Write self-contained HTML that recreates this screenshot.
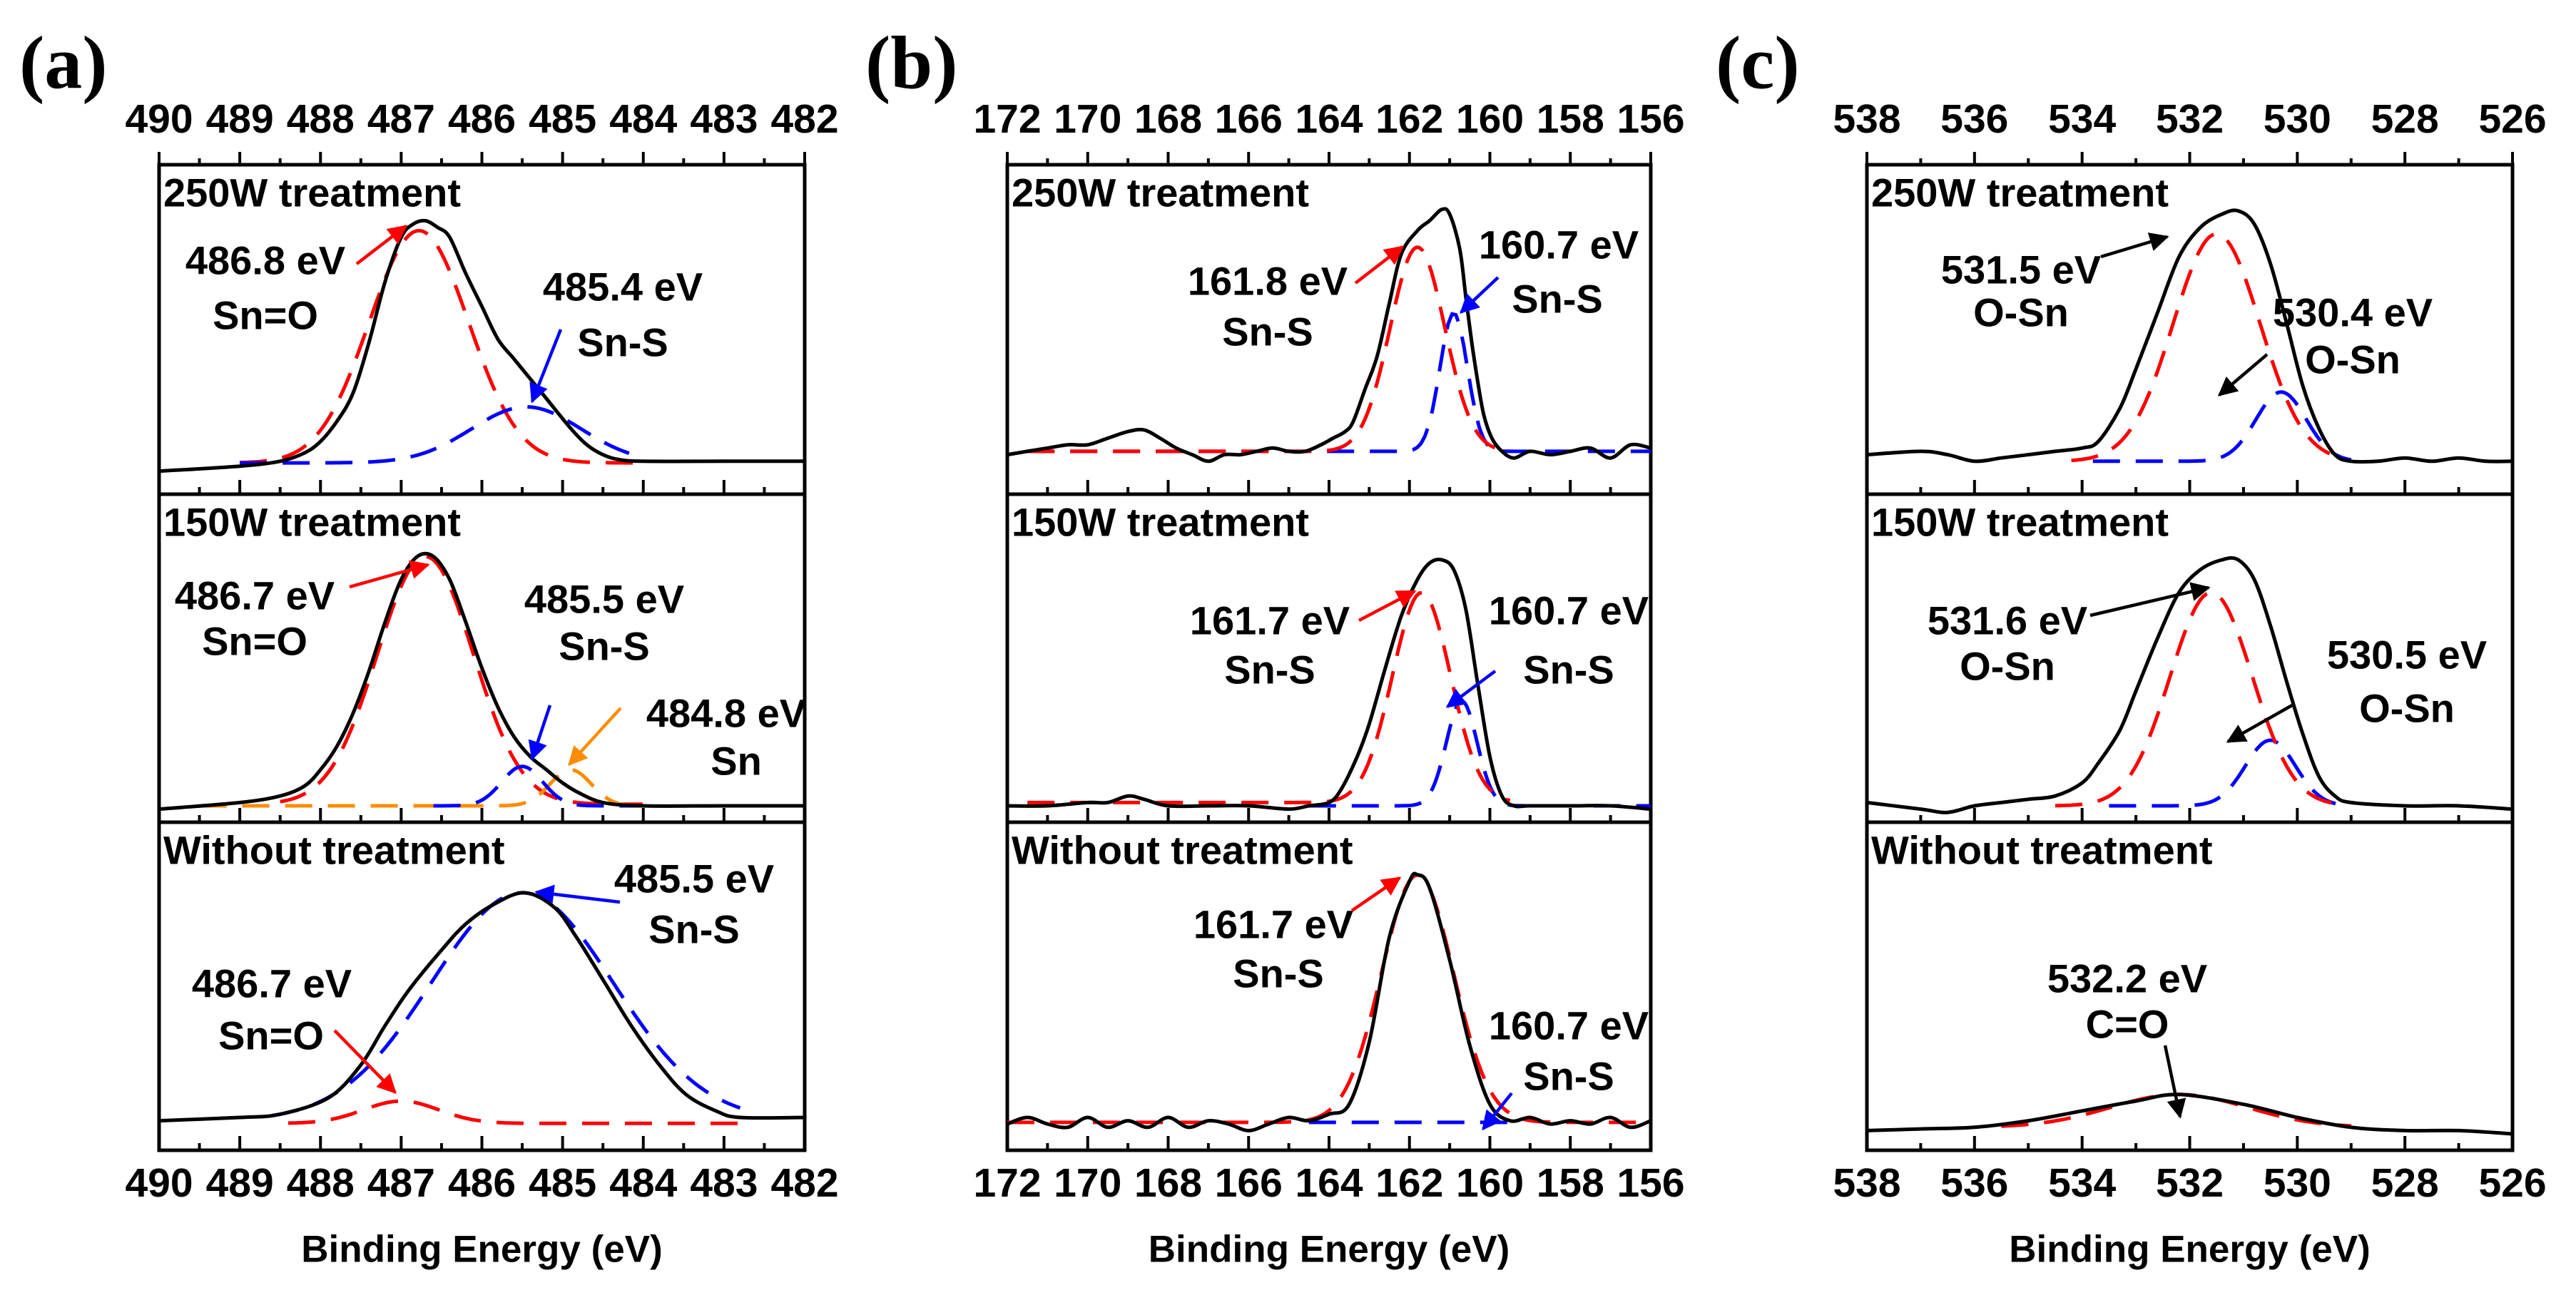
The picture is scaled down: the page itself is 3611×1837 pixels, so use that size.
<!DOCTYPE html>
<html><head><meta charset="utf-8">
<style>
html,body{margin:0;padding:0;background:#fff;}
svg{display:block;}
text{font-family:"Liberation Sans",Arial,sans-serif;font-weight:bold;fill:#000;}
</style></head>
<body>
<svg id="fig" width="3611" height="1837" viewBox="0 0 3611 1837" xmlns="http://www.w3.org/2000/svg">
<defs>
<marker id="ahR" viewBox="0 0 10 10" refX="9" refY="5" markerWidth="7" markerHeight="6" orient="auto" markerUnits="strokeWidth"><path d="M0,0 L10,5 L0,10 z" fill="#ff0000"/></marker>
<marker id="ahB" viewBox="0 0 10 10" refX="9" refY="5" markerWidth="7" markerHeight="6" orient="auto" markerUnits="strokeWidth"><path d="M0,0 L10,5 L0,10 z" fill="#0000ff"/></marker>
<marker id="ahO" viewBox="0 0 10 10" refX="9" refY="5" markerWidth="7" markerHeight="6" orient="auto" markerUnits="strokeWidth"><path d="M0,0 L10,5 L0,10 z" fill="#ff8c00"/></marker>
<marker id="ahK" viewBox="0 0 10 10" refX="9" refY="5" markerWidth="7" markerHeight="6" orient="auto" markerUnits="strokeWidth"><path d="M0,0 L10,5 L0,10 z" fill="#000000"/></marker>
</defs>
</svg>
<script>
// ---------- data ----------
const panelA_range = [490, 482];
const panelB_range = [172, 156];
const panelC_range = [538, 526];
const panelA_ticks = [490,489,488,487,486,485,484,483,482];
const panelB_ticks = [172,170,168,166,164,162,160,158,156];
const panelC_ticks = [538,536,534,532,530,528,526];
const rowTitles = ["250W treatment","150W treatment","Without treatment"];

const a1_E = [490,489,488.5,488.2,488,487.8,487.6,487.4,487.2,487,486.85,486.7,486.55,486.4,486.2,486,485.8,485.6,485.4,485.2,484.9,484.7,484.5,484.3,484,483,482];
const a1_I = [0.07,0.085,0.10,0.125,0.16,0.22,0.305,0.46,0.645,0.78,0.82,0.83,0.81,0.78,0.67,0.57,0.47,0.41,0.35,0.29,0.20,0.15,0.12,0.105,0.10,0.10,0.10];
const a2_E = [490,489,488.5,488.2,488,487.8,487.6,487.4,487.2,487,486.8,486.6,486.4,486.2,486,485.8,485.6,485.4,485.2,485,484.8,484.5,484,483,482];
const a2_I = [0.04,0.06,0.08,0.11,0.16,0.23,0.33,0.46,0.61,0.74,0.81,0.81,0.74,0.61,0.47,0.35,0.26,0.20,0.16,0.12,0.09,0.06,0.05,0.05,0.05];
const a3_E = [490,489,488.5,487.9,487.5,487.2,486.9,486.5,486.2,485.85,485.47,485.1,484.83,484.5,484.15,483.8,483.47,483.1,482.8,482];
const a3_I = [0.09,0.10,0.11,0.16,0.26,0.38,0.49,0.61,0.69,0.75,0.785,0.74,0.65,0.52,0.38,0.26,0.17,0.12,0.10,0.10];

const b1_E = [172,171.5,171,170.5,170,169.5,169,168.6,168.2,167.8,167.4,167,166.6,166.2,165.8,165.4,165,164.6,164.2,163.9,163.6,163.4,163.1,162.8,162.5,162.2,161.8,161.5,161.2,161,160.75,160.6,160.45,160.3,160.15,159.95,159.7,159.4,159,158.5,158,157.5,157,156.5,156];
const b1_I = [0.12,0.13,0.14,0.15,0.15,0.17,0.19,0.195,0.17,0.14,0.12,0.10,0.12,0.12,0.13,0.14,0.13,0.13,0.15,0.17,0.19,0.22,0.32,0.42,0.58,0.73,0.80,0.83,0.864,0.85,0.745,0.60,0.46,0.34,0.24,0.17,0.13,0.11,0.13,0.12,0.13,0.14,0.11,0.15,0.14];
const b2_E = [172,171,170,169.5,169,168.6,168,167,166,165,164.5,164,163.7,163.3,163,162.6,162.2,161.8,161.5,161.2,160.9,160.6,160.3,160,159.7,159.4,159,158,157,156];
const b2_I = [0.05,0.05,0.06,0.06,0.08,0.07,0.05,0.05,0.05,0.04,0.05,0.06,0.10,0.20,0.30,0.47,0.63,0.74,0.79,0.80,0.77,0.65,0.42,0.20,0.08,0.05,0.05,0.05,0.05,0.04];
const b3_E = [172,171.5,171,170.5,170,169.5,169,168.5,168,167.5,167,166.5,166,165.5,165,164.5,164,163.5,163,162.5,162,161.8,161.5,161,160.5,160,159.5,159,158.5,158,157.5,157,156.5,156];
const b3_I = [0.08,0.10,0.08,0.07,0.10,0.07,0.09,0.07,0.10,0.07,0.09,0.08,0.06,0.08,0.10,0.09,0.11,0.14,0.33,0.65,0.82,0.84,0.80,0.58,0.32,0.14,0.09,0.10,0.08,0.09,0.08,0.10,0.07,0.09];

const c1_E = [538,537,536.5,536,535.5,535,534.5,534,533.7,533.3,533,532.6,532.2,531.8,531.4,531.1,530.8,530.5,530.2,529.9,529.6,529.3,529,528.5,528,527.5,527,526.5,526];
const c1_I = [0.12,0.13,0.12,0.10,0.11,0.12,0.13,0.14,0.16,0.26,0.38,0.55,0.72,0.81,0.85,0.86,0.82,0.70,0.52,0.33,0.20,0.12,0.10,0.10,0.11,0.10,0.11,0.10,0.10];
const c2_E = [538,537,536.5,536,535.5,535,534.5,534,533.7,533.3,533,532.6,532.2,531.8,531.4,531.1,530.8,530.5,530.2,529.9,529.6,529.3,529,528,527,526];
const c2_I = [0.06,0.04,0.03,0.05,0.06,0.07,0.08,0.12,0.18,0.28,0.40,0.56,0.70,0.77,0.80,0.80,0.74,0.60,0.43,0.27,0.14,0.08,0.06,0.05,0.05,0.04];
const c3_E = [538,537,536,535,534,533,532.2,531,530,529,528,527,526];
const c3_I = [0.06,0.065,0.07,0.09,0.12,0.15,0.17,0.14,0.10,0.07,0.06,0.06,0.05];

// Fitted components: [center eV, peak height, FWHM eV, baseline, start eV, end eV]
const a1_red = [486.78, 0.80, 1.45, 0.095, 489.0, 484.0];
const a1_blue = [485.45, 0.265, 1.6, 0.095, 489.0, 484.0];
const a2_red = [486.7, 0.81, 1.4, 0.055, 488.5, 484.0];
const a2_blue = [485.5, 0.17, 0.6, 0.05, 486.6, 484.0];
const a2_orange = [484.9, 0.16, 0.6, 0.05, 489.5, 484.0];
const a3_red = [487.0, 0.15, 1.1, 0.082, 488.4, 482.7];
const a3_blue = [485.5, 0.785, 2.65, 0.09, 488.6, 482.8];
const b1_red = [161.8, 0.75, 1.6, 0.13, 171.5, 159.5];
const b1_blue = [160.9, 0.55, 0.8, 0.13, 171.5, 156];
const b2_red = [161.7, 0.70, 1.7, 0.06, 171.5, 159.5];
const b2_blue = [160.7, 0.37, 0.9, 0.05, 164.5, 156];
const b3_red = [161.8, 0.84, 2.1, 0.085, 172, 156];
const b3_blue = [160.7, 0.085, 0.9, 0.085, 164.5, 159.5];
const c1_red = [531.5, 0.79, 1.9, 0.10, 534.2, 529.2];
const c1_blue = [530.3, 0.31, 1.1, 0.10, 533.8, 529.0];
const c2_red = [531.6, 0.70, 1.8, 0.05, 534.5, 529.2];
const c2_blue = [530.5, 0.25, 1.1, 0.05, 533.5, 529.0];
const c3_red = [532.2, 0.17, 3.0, 0.07, 535.5, 529.0];

// ---------- layout ----------
const NS = "http://www.w3.org/2000/svg";
const svg = document.getElementById("fig");
const rowsY = [[231,693],[693,1153],[1153,1613]];
const panels = [
  {id:"a", x0:223, x1:1128, range:panelA_range, ticks:panelA_ticks, minor:0.5, label:"(a)", lx:27},
  {id:"b", x0:1412, x1:2314, range:panelB_range, ticks:panelB_ticks, minor:1, label:"(b)", lx:1213},
  {id:"c", x0:2617, x1:3522, range:panelC_range, ticks:panelC_ticks, minor:1, label:"(c)", lx:2405}
];
const LFS = 56;
function mk(tag, attrs, parent){
  const el = document.createElementNS(NS, tag);
  for (const k in attrs) el.setAttribute(k, attrs[k]);
  (parent||svg).appendChild(el);
  return el;
}
function xs(p, E){ return p.x0 + (p.range[0]-E)/(p.range[0]-p.range[1])*(p.x1-p.x0); }
function ys(r, f){ return rowsY[r][1] - f*(rowsY[r][1]-rowsY[r][0]); }

function smoothPath(pts){
  let d = "M"+pts[0][0].toFixed(1)+","+pts[0][1].toFixed(1);
  for (let i=0;i<pts.length-1;i++){
    const p0=pts[Math.max(0,i-1)], p1=pts[i], p2=pts[i+1], p3=pts[Math.min(pts.length-1,i+2)];
    const c1x=p1[0]+(p2[0]-p0[0])/6, c1y=p1[1]+(p2[1]-p0[1])/6;
    const c2x=p2[0]-(p3[0]-p1[0])/6, c2y=p2[1]-(p3[1]-p1[1])/6;
    d += " C"+c1x.toFixed(1)+","+c1y.toFixed(1)+" "+c2x.toFixed(1)+","+c2y.toFixed(1)+" "+p2[0].toFixed(1)+","+p2[1].toFixed(1);
  }
  return d;
}
function drawSpectrum(p, r, E, I, name){
  const pts = E.map((e,i)=>[xs(p,e), ys(r,I[i])]);
  const el = mk("path",{d:smoothPath(pts), fill:"none", stroke:"#000", "stroke-width":5, "stroke-linejoin":"round"});
  
  
}
function drawFit(p, r, par, color, name){
  const [c,h,w,b,s,e] = par;
  const sig = w/2.3548;
  const pts=[];
  const n=160;
  for(let i=0;i<=n;i++){
    const E = s + (e-s)*i/n;
    const v = b + (h-b)*Math.exp(-((E-c)*(E-c))/(2*sig*sig));
    pts.push(xs(p,E).toFixed(1)+","+ys(r,v).toFixed(1));
  }
  const el = mk("polyline",{points:pts.join(" "), fill:"none", stroke:color, "stroke-width":5, "stroke-dasharray":"38 22"});
  
  
}
function txt(x,y,s,name,anchor){
  const t = mk("text",{x:x,y:y,"font-size":LFS,"text-anchor":anchor||"middle","dominant-baseline":"central"});
  t.textContent = s;
  
  
  return t;
}
function arrow(x1,y1,x2,y2,color,marker,name){
  const el = mk("line",{x1:x1,y1:y1,x2:x2,y2:y2,stroke:color,"stroke-width":4.5,"marker-end":"url(#"+marker+")"});
  
  
}

// ---------- frames & axes ----------
panels.forEach(p=>{
  const g = mk("g",{});
  
  
  const lab = mk("text",{x:p.lx,y:88,"font-size":106,"dominant-baseline":"central"},g);
  lab.setAttribute("style","font-family:'Liberation Serif',serif;font-weight:bold;");
  lab.textContent = p.label;
  
  
  const lo=Math.min(p.range[0],p.range[1]), hi=Math.max(p.range[0],p.range[1]);
  for (let r=0;r<3;r++){
    const fr = mk("rect",{x:p.x0,y:rowsY[r][0],width:p.x1-p.x0,height:rowsY[r][1]-rowsY[r][0],fill:"none",stroke:"#000","stroke-width":5},g);
    
    
    for (let E=lo; E<=hi+1e-6; E+=p.minor){
      const major = Math.abs(((E-lo)/(p.minor*2))-Math.round((E-lo)/(p.minor*2)))<1e-6;
      const x = xs(p,E);
      const tk = mk("line",{x1:x,x2:x,y1:rowsY[r][1],y2:rowsY[r][1]-(major?20:10),stroke:"#000","stroke-width":4},g);
      
      
    }
    txt(p.x0+6, rowsY[r][0]+39, rowTitles[r], 'row-title-'+p.id+(r+1), "start");
  }
  for (let E=lo; E<=hi+1e-6; E+=p.minor){
    const major = Math.abs(((E-lo)/(p.minor*2))-Math.round((E-lo)/(p.minor*2)))<1e-6;
    const x = xs(p,E);
    const tk = mk("line",{x1:x,x2:x,y1:231,y2:231-(major?18:9),stroke:"#000","stroke-width":4},g);
    
    
  }
  p.ticks.forEach(v=>{
    const t1 = mk("text",{x:xs(p,v),y:167,"font-size":57,"text-anchor":"middle","dominant-baseline":"central"},g);
    t1.textContent = v;
    
    
    const t2 = mk("text",{x:xs(p,v),y:1659,"font-size":57,"text-anchor":"middle","dominant-baseline":"central"},g);
    t2.textContent = v;
    
    
  });
  const at = mk("text",{x:(p.x0+p.x1)/2,y:1752,"font-size":53,"text-anchor":"middle","dominant-baseline":"central"},g);
  at.textContent = "Binding Energy (eV)";
  
  
});
const [A,B,C] = panels;

// ---------- series ----------
drawFit(A,0,a1_red,"#ff0000","fit-a1-sn-o"); drawFit(A,0,a1_blue,"#0000ff","fit-a1-sn-s"); drawSpectrum(A,0,a1_E,a1_I,"spectrum-a1");
drawFit(A,1,a2_red,"#ff0000","fit-a2-sn-o"); drawFit(A,1,a2_orange,"#ff8c00","fit-a2-sn"); drawFit(A,1,a2_blue,"#0000ff","fit-a2-sn-s"); drawSpectrum(A,1,a2_E,a2_I,"spectrum-a2");
drawFit(A,2,a3_red,"#ff0000","fit-a3-sn-o"); drawFit(A,2,a3_blue,"#0000ff","fit-a3-sn-s"); drawSpectrum(A,2,a3_E,a3_I,"spectrum-a3");
drawFit(B,0,b1_blue,"#0000ff","fit-b1-blue"); drawFit(B,0,b1_red,"#ff0000","fit-b1-red"); drawSpectrum(B,0,b1_E,b1_I,"spectrum-b1");
drawFit(B,1,b2_blue,"#0000ff","fit-b2-blue"); drawFit(B,1,b2_red,"#ff0000","fit-b2-red"); drawSpectrum(B,1,b2_E,b2_I,"spectrum-b2");
drawFit(B,2,b3_blue,"#0000ff","fit-b3-blue"); drawFit(B,2,b3_red,"#ff0000","fit-b3-red"); drawSpectrum(B,2,b3_E,b3_I,"spectrum-b3");
drawFit(C,0,c1_blue,"#0000ff","fit-c1-blue"); drawFit(C,0,c1_red,"#ff0000","fit-c1-red"); drawSpectrum(C,0,c1_E,c1_I,"spectrum-c1");
drawFit(C,1,c2_blue,"#0000ff","fit-c2-blue"); drawFit(C,1,c2_red,"#ff0000","fit-c2-red"); drawSpectrum(C,1,c2_E,c2_I,"spectrum-c2");
drawFit(C,2,c3_red,"#ff0000","fit-c3-red"); drawSpectrum(C,2,c3_E,c3_I,"spectrum-c3");

// ---------- annotations ----------
txt(372,365,"486.8 eV","ann-a1-486-8"); txt(372,442,"Sn=O","ann-a1-sn-o");
txt(873,402,"485.4 eV","ann-a1-485-4"); txt(873,480,"Sn-S","ann-a1-sn-s");
arrow(500,370,569,317,"#ff0000","ahR","arrow-a1-red"); arrow(786,462,746,563,"#0000ff","ahB","arrow-a1-blue");

txt(357,835,"486.7 eV","ann-a2-486-7"); txt(357,899,"Sn=O","ann-a2-sn-o");
txt(847,840,"485.5 eV","ann-a2-485-5"); txt(847,906,"Sn-S","ann-a2-sn-s");
txt(1018,1000,"484.8 eV","ann-a2-484-8"); txt(1032,1067,"Sn","ann-a2-sn");
arrow(490,823,600,792,"#ff0000","ahR","arrow-a2-red"); arrow(771,989,746,1064,"#0000ff","ahB","arrow-a2-blue"); arrow(870,993,798,1072,"#ff8c00","ahO","arrow-a2-orange");

txt(973,1232,"485.5 eV","ann-a3-485-5"); txt(973,1303,"Sn-S","ann-a3-sn-s");
txt(381,1379,"486.7 eV","ann-a3-486-7"); txt(380,1452,"Sn=O","ann-a3-sn-o");
arrow(469,1445,554,1532,"#ff0000","ahR","arrow-a3-red"); arrow(869,1265,752,1251,"#0000ff","ahB","arrow-a3-blue");

txt(1777,394,"161.8 eV","ann-b1-161-8"); txt(1777,465,"Sn-S","ann-b1-sn-s");
txt(2185,343,"160.7 eV","ann-b1-160-7"); txt(2183,419,"Sn-S","ann-b1-sn-s2");
arrow(1900,397,1966,346,"#ff0000","ahR","arrow-b1-red"); arrow(2100,389,2048,438,"#0000ff","ahB","arrow-b1-blue");

txt(1780,870,"161.7 eV","ann-b2-161-7"); txt(1780,939,"Sn-S","ann-b2-sn-s");
txt(2199,856,"160.7 eV","ann-b2-160-7"); txt(2199,939,"Sn-S","ann-b2-sn-s2");
arrow(1905,870,1983,829,"#ff0000","ahR","arrow-b2-red"); arrow(2096,941,2029,991,"#0000ff","ahB","arrow-b2-blue");

txt(1785,1296,"161.7 eV","ann-b3-161-7"); txt(1792,1365,"Sn-S","ann-b3-sn-s");
txt(2199,1438,"160.7 eV","ann-b3-160-7"); txt(2199,1509,"Sn-S","ann-b3-sn-s2");
arrow(1895,1277,1962,1231,"#ff0000","ahR","arrow-b3-red"); arrow(2119,1533,2079,1583,"#0000ff","ahB","arrow-b3-blue");

txt(2833,378,"531.5 eV","ann-c1-531-5"); txt(2833,438,"O-Sn","ann-c1-o-sn");
txt(3298,438,"530.4 eV","ann-c1-530-4"); txt(3298,504,"O-Sn","ann-c1-o-sn2");
arrow(2945,360,3038,332,"#000","ahK","arrow-c1-a"); arrow(3178,497,3111,554,"#000","ahK","arrow-c1-b");

txt(2814,870,"531.6 eV","ann-c2-531-6"); txt(2814,934,"O-Sn","ann-c2-o-sn");
txt(3374,918,"530.5 eV","ann-c2-530-5"); txt(3374,993,"O-Sn","ann-c2-o-sn2");
arrow(2930,863,3096,824,"#000","ahK","arrow-c2-a"); arrow(3213,989,3123,1040,"#000","ahK","arrow-c2-b");

txt(2982,1372,"532.2 eV","ann-c3-532-2"); txt(2982,1436,"C=O","ann-c3-c-o");
arrow(3035,1466,3056,1566,"#000","ahK","arrow-c3");
</script>
</body></html>
